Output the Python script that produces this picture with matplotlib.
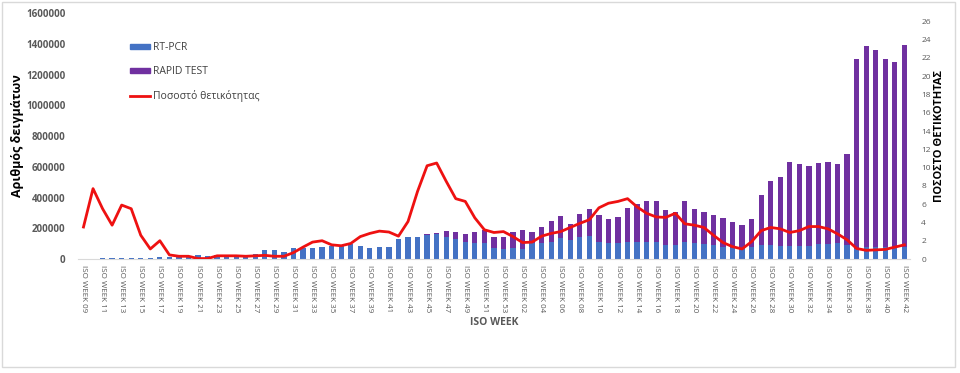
import matplotlib
matplotlib.use("Agg")
import matplotlib.pyplot as plt
from matplotlib.patches import Patch, Rectangle
from matplotlib.lines import Line2D
import numpy as np

plt.rcParams["font.family"] = ["Open Sans", "DejaVu Sans"]

# ISO weeks: 2020 w09..w53, then 2021 w01..w42
weeks = list(range(9, 54)) + list(range(1, 43))
labels = ["ISO WEEK %02d" % w for w in weeks]

rt_pcr = [
    3000, 3000, 4000, 6000, 6000, 6000, 6000, 7000, 10000, 13000,
    16000, 16000, 26000, 20000, 24000, 24000, 24000, 24000, 32000, 58000,
    58000, 48000, 70000, 70000, 74000, 80000, 85000, 85000, 95000, 85000,
    74000, 76000, 80000, 128000, 141000, 141000, 155000, 160000, 141000, 128000,
    113000, 102000, 102000, 69000, 63000, 69000, 67000, 102000, 106000, 113000,
    134000, 124000, 145000, 150000, 113000, 106000, 106000, 113000, 113000, 113000,
    113000, 91000, 91000, 113000, 102000, 98000, 91000, 80000, 69000, 69000,
    80000, 91000, 91000, 87000, 87000, 87000, 87000, 95000, 95000, 102000,
    91000, 63000, 80000, 80000, 80000, 69000, 80000,
]

rapid = [
    0, 0, 0, 0, 0, 0, 0, 0, 0, 0,
    0, 0, 0, 0, 0, 0, 0, 0, 0, 0,
    0, 0, 0, 0, 0, 0, 0, 0, 0, 0,
    0, 0, 0, 0, 0, 0, 5000, 7000, 41000, 50000,
    50000, 76000, 87000, 76000, 82000, 109000, 122000, 72000, 100000, 136000,
    146000, 101000, 148000, 173000, 173000, 154000, 165000, 217000, 243000, 264000,
    264000, 228000, 213000, 266000, 223000, 210000, 195000, 185000, 170000, 152000,
    180000, 325000, 418000, 448000, 542000, 531000, 518000, 529000, 534000, 516000,
    592000, 1236000, 1306000, 1279000, 1221000, 1214000, 1312000,
]

positivity = [
    3.5, 7.7, 5.5, 3.7, 5.9, 5.5, 2.6, 1.1, 2.0, 0.45,
    0.3, 0.3, 0.05, 0.05, 0.35, 0.35, 0.35, 0.3, 0.35, 0.4,
    0.3, 0.3, 0.7, 1.3, 1.85, 2.0, 1.55, 1.45, 1.7, 2.45,
    2.8, 3.05, 2.95, 2.5, 4.1, 7.4, 10.2, 10.5, 8.5, 6.6,
    6.3, 4.5, 3.2, 2.9, 3.0, 2.45, 1.8, 1.85, 2.5, 2.8,
    3.0, 3.45, 3.9, 4.3, 5.6, 6.1, 6.3, 6.6, 5.7, 5.0,
    4.6, 4.55, 5.0, 3.85, 3.7, 3.45, 2.6, 1.8, 1.35, 1.1,
    1.9, 3.1, 3.45, 3.3, 2.9, 3.1, 3.55, 3.55, 3.3, 2.75,
    2.1, 1.15, 0.95, 1.0, 1.05, 1.3, 1.55,
]

blue = "#4472C4"
purple = "#7030A0"
red = "#EE1111"
grey = "#595959"

x = np.arange(len(weeks))

fig = plt.figure(figsize=(9.6, 3.73), dpi=100)
ax = fig.add_axes([0.081, 0.3056, 0.867, 0.6594])

ax.bar(x, rt_pcr, width=0.55, color=blue, zorder=2)
ax.bar(x, rapid, width=0.55, bottom=rt_pcr, color=purple, zorder=2)

ax.set_xlim(-0.6, len(weeks) - 0.4)
ax.set_ylim(0, 1600000)
ax.set_yticks(np.arange(0, 1600001, 200000))
ax.set_yticklabels([str(v) for v in range(0, 1600001, 200000)],
                   fontsize=7, fontweight="bold", color=grey)
ax.set_xticks(x[::2])
ax.set_xticklabels(labels[::2], rotation=270, fontsize=5.8, color=grey)
ax.tick_params(axis="both", length=0, pad=4)
ax.tick_params(axis="y", pad=9)
for s in ["top", "left", "right"]:
    ax.spines[s].set_visible(False)
ax.spines["bottom"].set_color("#d9d9d9")

ax.set_ylabel("Αριθμός δειγμάτων", fontsize=9, fontweight="bold",
              color="black", labelpad=1)
ax.set_xlabel("ISO WEEK", fontsize=7.5, fontweight="bold", color=grey,
              labelpad=4)

ax2 = ax.twinx()
ax2.plot(x, positivity, color=red, linewidth=2, zorder=3)
ax2.set_ylim(0, 26.9)
ax2.set_yticks(np.arange(0, 27, 2))
ax2.set_yticklabels([str(v) for v in range(0, 27, 2)], fontsize=6, color=grey)
ax2.tick_params(axis="y", length=0, pad=8)
for s in ["top", "left", "right", "bottom"]:
    ax2.spines[s].set_visible(False)
ax2.set_ylabel("ΠΟΣΟΣΤΟ ΘΕΤΙΚΟΤΗΤΑΣ", fontsize=8, fontweight="bold",
               color="black", labelpad=2)

handles = [
    Patch(color=blue, label="RT-PCR"),
    Patch(color=purple, label="RAPID TEST"),
    Line2D([0], [0], color=red, linewidth=2, label="Ποσοστό θετικότητας"),
]
fig.legend(handles=handles, loc="upper left",
           bbox_to_anchor=(0.126, 0.912), frameon=False, fontsize=7.5,
           labelspacing=1.25, handlelength=1.9, handleheight=0.5,
           handletextpad=0.3, labelcolor="#404040")

fig.add_artist(Rectangle((0.002, 0.016), 0.993, 0.979, transform=fig.transFigure,
                         fill=False, edgecolor="#d9d9d9", linewidth=1))

fig.savefig("out.png", dpi=100)
